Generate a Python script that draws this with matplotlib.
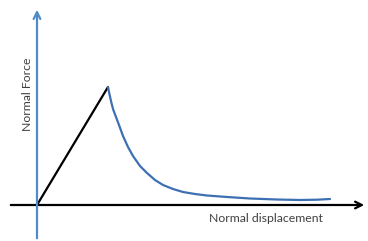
import matplotlib
matplotlib.use("Agg")
import matplotlib.pyplot as plt

# loading branch (straight line)
load_x = [0, 71]
load_y = [0, 118]
# softening branch
soft_x = [71, 72, 74, 76, 79, 82, 86, 91, 96, 103, 110, 118, 126, 136, 146, 158, 170, 190, 213, 240, 263, 280, 293]
soft_y = [118, 113, 104, 96, 88, 80, 69, 58, 49, 39, 32, 25, 20, 16, 13, 11, 9.5, 8, 6.5, 5.5, 5, 5.3, 6]

x_label = "Normal displacement"
y_label = "Normal Force"

fig = plt.figure(figsize=(3.68, 2.41), dpi=100)
ax = fig.add_axes([0, 0, 1, 1])
ax.set_xlim(-37, 331)
ax.set_ylim(-36, 205)
ax.axis("off")

# axes arrows
ax.annotate("", xy=(330, 0), xytext=(-29, 0),
            arrowprops=dict(arrowstyle="->", color="black", lw=1.6, mutation_scale=12))
ax.annotate("", xy=(0, 198), xytext=(0, -36),
            arrowprops=dict(arrowstyle="->", color="#4f8ac9", lw=1.6, mutation_scale=12))

ax.plot(load_x, load_y, color="black", lw=1.6, solid_capstyle="round")
ax.plot(soft_x, soft_y, color="#3d70b2", lw=1.6, solid_capstyle="round",
        solid_joinstyle="round")

ax.text(229, -13, x_label, ha="center", va="center", fontsize=8.8,
        color="#404040", family="Lato")
ax.text(-9, 111, y_label, ha="center", va="center", rotation=90, fontsize=8.8,
        color="#404040", family="Lato")

fig.savefig("out.png", dpi=100)
